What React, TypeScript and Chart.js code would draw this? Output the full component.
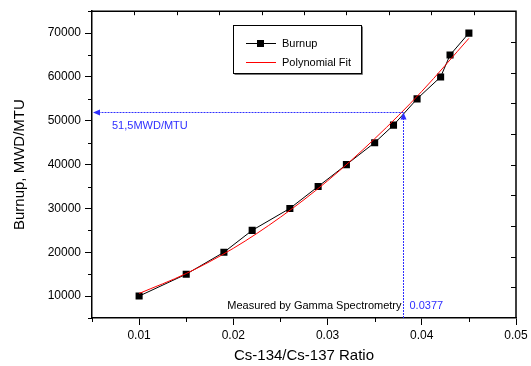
import React, { useEffect, useRef } from "react";
import { Chart, registerables } from "chart.js";

Chart.register(...registerables);

const ratio = [0.01, 0.015, 0.019, 0.022, 0.026, 0.029, 0.032, 0.035, 0.037, 0.0395, 0.042, 0.043, 0.045];
const burnup = [10000, 15000, 20000, 25000, 30000, 35000, 40000, 45000, 49000, 55000, 60000, 65000, 70000];
const fitRatio = [0.01, 0.015, 0.02, 0.025, 0.03, 0.035, 0.04, 0.045];
const fitBurnup = [10600, 15150, 20900, 28000, 36300, 45900, 56700, 68800];
const xTicks = [0.01, 0.02, 0.03, 0.04, 0.05];
const xMinorTicks = [0.005, 0.015, 0.025, 0.035, 0.045];
const yTicks = [10000, 20000, 30000, 40000, 50000, 60000, 70000];
const yMinorTicks = [5000, 15000, 25000, 35000, 45000, 55000, 65000, 75000];
const measuredRatio = 0.038;
const measuredBurnup = 51900;
const measuredRatioLabel = "0.0377";
const measuredBurnupLabel = "51,5MWD/MTU";
const measuredNote = "Measured by Gamma Spectrometry";
const seriesNames = ["Burnup", "Polynomial Fit"];
const xTitle = "Cs-134/Cs-137 Ratio";
const yTitle = "Burnup, MWD/MTU";

const FONT = "'Liberation Sans', Arial, sans-serif";
const BLUE = "#2f2fff";

const overlay = {
  id: "overlay",
  afterDraw(chart: any) {
    const ctx = chart.ctx as CanvasRenderingContext2D;
    const { left, right, top, bottom } = chart.chartArea;
    const xs = chart.scales.x;
    const ys = chart.scales.y;
    ctx.save();
    // frame top/right
    ctx.strokeStyle = "#000";
    ctx.lineWidth = 1.5;
    ctx.beginPath();
    ctx.moveTo(left, top);
    ctx.lineTo(right, top);
    ctx.lineTo(right, bottom);
    ctx.stroke();
    ctx.lineWidth = 1;
    // minor ticks left/bottom
    ctx.beginPath();
    for (const v of yMinorTicks) {
      const y = Math.round(ys.getPixelForValue(v)) + 0.5;
      ctx.moveTo(left - 4, y);
      ctx.lineTo(left, y);
    }
    for (const v of xMinorTicks) {
      const x = Math.round(xs.getPixelForValue(v)) + 0.5;
      ctx.moveTo(x, bottom);
      ctx.lineTo(x, bottom + 4);
    }
    // top and right mirror ticks (10 intervals each, inward)
    for (let i = 1; i < 10; i++) {
      const x = Math.round(left + ((right - left) * i) / 10) + 0.5;
      ctx.moveTo(x, top);
      ctx.lineTo(x, top + 4);
      const y = Math.round(top + ((bottom - top) * i) / 10) + 0.5;
      ctx.moveTo(right, y);
      ctx.lineTo(right - 5, y);
    }
    ctx.stroke();

    // measurement guide lines
    const mx = Math.round(xs.getPixelForValue(measuredRatio)) + 0.5;
    const my = Math.round(ys.getPixelForValue(measuredBurnup)) + 0.5;
    ctx.strokeStyle = BLUE;
    ctx.fillStyle = BLUE;
    ctx.lineWidth = 1;
    ctx.setLineDash([2, 1]);
    ctx.beginPath();
    ctx.moveTo(mx, my);
    ctx.lineTo(left + 6, my);
    ctx.stroke();
    ctx.beginPath();
    ctx.moveTo(mx, bottom);
    ctx.lineTo(mx, my + 6);
    ctx.stroke();
    ctx.setLineDash([]);
    ctx.beginPath();
    ctx.moveTo(left + 1, my);
    ctx.lineTo(left + 8, my - 3);
    ctx.lineTo(left + 8, my + 3);
    ctx.closePath();
    ctx.fill();
    ctx.beginPath();
    ctx.moveTo(mx, my);
    ctx.lineTo(mx - 3, my + 7);
    ctx.lineTo(mx + 3, my + 7);
    ctx.closePath();
    ctx.fill();

    ctx.font = `11px ${FONT}`;
    ctx.textBaseline = "middle";
    ctx.textAlign = "left";
    ctx.fillText(measuredBurnupLabel, left + 20, my + 13);
    ctx.fillText(measuredRatioLabel, mx + 6, bottom - 12);
    ctx.fillStyle = "#000";
    ctx.textAlign = "right";
    ctx.fillText(measuredNote, mx - 2, bottom - 12);

    // legend
    const lx = 233.5, ly = 25.5, lw = 128, lh = 48;
    ctx.fillStyle = "#fff";
    ctx.fillRect(lx, ly, lw, lh);
    ctx.strokeStyle = "#000";
    ctx.lineWidth = 1;
    ctx.strokeRect(lx, ly, lw, lh);
    ctx.strokeStyle = "#777";
    ctx.beginPath();
    ctx.moveTo(lx + 1, ly + lh + 1);
    ctx.lineTo(lx + lw + 1, ly + lh + 1);
    ctx.lineTo(lx + lw + 1, ly + 1);
    ctx.stroke();
    const r1 = 43.5, r2 = 62.5;
    ctx.strokeStyle = "#000";
    ctx.beginPath();
    ctx.moveTo(246, r1);
    ctx.lineTo(276, r1);
    ctx.stroke();
    ctx.fillStyle = "#000";
    ctx.fillRect(257, r1 - 3.5, 7, 7);
    ctx.strokeStyle = "#ff0000";
    ctx.beginPath();
    ctx.moveTo(246, r2);
    ctx.lineTo(276, r2);
    ctx.stroke();
    ctx.fillStyle = "#000";
    ctx.textAlign = "left";
    ctx.font = `11px ${FONT}`;
    ctx.fillText(seriesNames[0], 282, r1);
    ctx.fillText(seriesNames[1], 282, r2);

    // axis titles
    ctx.font = `15px ${FONT}`;
    ctx.textAlign = "center";
    ctx.fillText(xTitle, (left + right) / 2, 356);
    ctx.save();
    ctx.translate(20, (top + bottom) / 2);
    ctx.rotate(-Math.PI / 2);
    ctx.fillText(yTitle, 0, 0);
    ctx.restore();
    ctx.restore();
  },
};

export default function App() {
  const ref = useRef<HTMLCanvasElement>(null);
  useEffect(() => {
    document.body.style.margin = "0";
    const chart = new Chart(ref.current!, {
      type: "line",
      data: {
        datasets: [
          {
            label: seriesNames[1],
            data: fitRatio.map((x, i) => ({ x, y: fitBurnup[i] })),
            borderColor: "#ff0000",
            borderWidth: 1,
            pointRadius: 0,
            cubicInterpolationMode: "monotone",
            order: 0,
          },
          {
            label: seriesNames[0],
            data: ratio.map((x, i) => ({ x, y: burnup[i] })),
            borderColor: "#000",
            borderWidth: 1,
            pointStyle: "rect",
            pointRadius: 5,
            pointBackgroundColor: "#000",
            pointBorderColor: "#000",
            pointBorderWidth: 0,
            order: 1,
          },
        ],
      },
      options: {
        responsive: false,
        animation: false,
        layout: { padding: { left: 0, right: 15, top: 8, bottom: 0 } },
        plugins: { legend: { display: false }, tooltip: { enabled: false } },
        scales: {
          x: {
            type: "linear",
            min: 0.005,
            max: 0.05,
            afterBuildTicks: (s: any) => {
              s.ticks = xTicks.map((v) => ({ value: v }));
            },
            afterFit: (s: any) => {
              s.height = 48;
            },
            ticks: {
              color: "#000",
              font: { family: FONT, size: 12 },
              padding: 3,
              maxRotation: 0,
              autoSkip: false,
              callback: (v: any) => String(Number(v).toFixed(2)),
            },
            grid: { drawOnChartArea: false, drawTicks: true, tickLength: 7, color: "#000" },
            border: { display: true, color: "#000", width: 1.5 },
          },
          y: {
            type: "linear",
            min: 5000,
            max: 75000,
            afterBuildTicks: (s: any) => {
              s.ticks = yTicks.map((v) => ({ value: v }));
            },
            afterFit: (s: any) => {
              s.width = 92;
            },
            ticks: {
              color: "#000",
              font: { family: FONT, size: 12 },
              padding: 4,
              autoSkip: false,
              callback: (v: any) => String(v),
            },
            grid: { drawOnChartArea: false, drawTicks: true, tickLength: 7, color: "#000" },
            border: { display: true, color: "#000", width: 1.5 },
          },
        },
      },
      plugins: [overlay],
    });
    return () => chart.destroy();
  }, []);
  return (
    <div style={{ width: 531, height: 366 }}>
      <canvas ref={ref} width={531} height={366} />
    </div>
  );
}
